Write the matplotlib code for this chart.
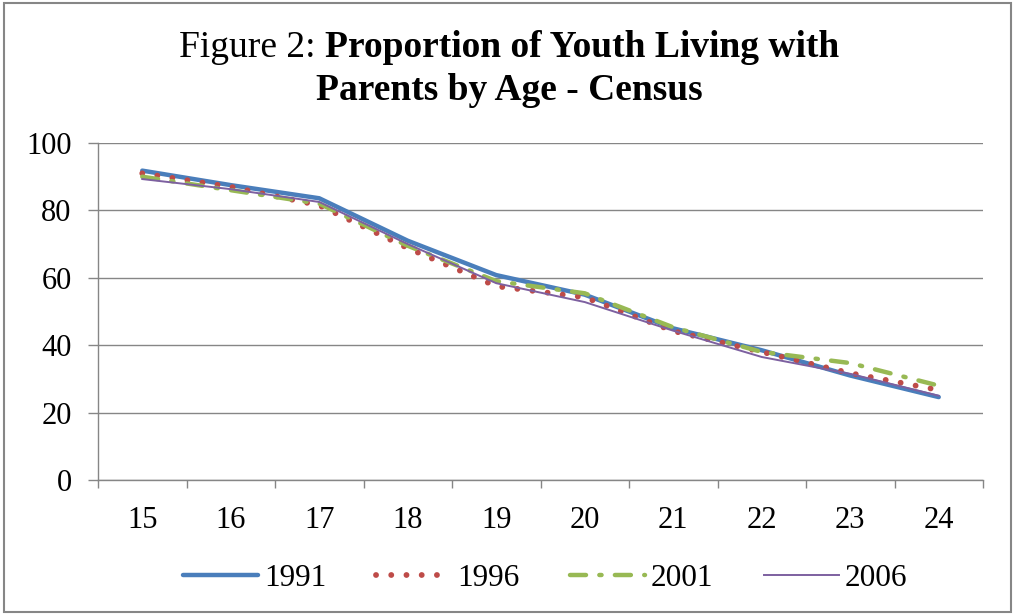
import matplotlib
matplotlib.use("Agg")
import matplotlib.pyplot as plt
from matplotlib.patches import Rectangle
from matplotlib.ticker import FixedLocator, NullFormatter

ages = ["15", "16", "17", "18", "19", "20", "21", "22", "23", "24"]
years = ["1991", "1996", "2001", "2006"]
v1991 = [91.8, 87.5, 83.6, 71.0, 60.8, 55.0, 45.0, 38.5, 31.0, 24.6]
v1996 = [91.0, 87.0, 81.5, 68.8, 57.5, 54.2, 44.2, 38.0, 31.7, 26.7]
v2001 = [90.0, 86.0, 82.0, 69.5, 59.0, 55.4, 45.3, 38.0, 34.7, 28.0]
v2006 = [89.3, 86.3, 82.5, 70.0, 58.4, 52.8, 44.3, 36.5, 31.5, 25.0]
yticks = [0, 20, 40, 60, 80, 100]

plt.rcParams['font.family'] = ['Liberation Serif', 'DejaVu Serif']

W, H = 1014, 614
fig = plt.figure(figsize=(W / 100, H / 100), dpi=100)
ax = fig.add_axes([98 / W, 1 - 480 / H, (983 - 98) / W, (480 - 143) / H])

x = list(range(len(ages)))
grid_c = '#868686'

ax.plot(x, v1991, color='#4A7EBB', lw=3.2, solid_capstyle='round', label=years[0], zorder=3)
ax.plot(x, v1996, color='#BE4B48', lw=4.2, linestyle=(0, (0.01, 2.6)),
        dash_capstyle='round', label=years[1], zorder=4)
ax.plot(x, v2001, color='#98B954', lw=3.2, linestyle=(0, (3.6, 3.0, 0.5, 3.0)),
        dash_capstyle='round', label=years[2], zorder=5)
ax.plot(x, v2006, color='#7D60A0', lw=1.4, label=years[3], zorder=6)

ax.set_xlim(-0.5, len(ages) - 0.5)
ax.set_ylim(0, 100)
ax.set_yticks(yticks)
ax.set_yticklabels([str(t) for t in yticks])
ax.xaxis.set_major_locator(FixedLocator([i - 0.5 for i in range(len(ages) + 1)]))
ax.xaxis.set_major_formatter(NullFormatter())
ax.xaxis.set_minor_locator(FixedLocator(x))
ax.set_xticklabels(ages, minor=True)
ax.tick_params(axis='x', which='minor', length=0, pad=19, labelsize=22)
ax.tick_params(axis='x', which='major', length=6, width=1, color=grid_c, direction='out')
ax.tick_params(axis='y', length=7, width=1, color=grid_c, direction='out', pad=12, labelsize=22)

for s in ['top', 'right']:
    ax.spines[s].set_visible(False)
for s in ['left', 'bottom']:
    ax.spines[s].set_color(grid_c)
    ax.spines[s].set_linewidth(1)
ax.yaxis.grid(True, color=grid_c, lw=1)
ax.set_axisbelow(True)

leg = fig.legend(loc='center', bbox_to_anchor=(545 / W, 1 - 578 / H), ncol=4, frameon=False,
                 fontsize=22.5, handlelength=2.4, handletextpad=0.2, columnspacing=1.6)

# Title with mixed weights
fs_title = 27
renderer = fig.canvas.get_renderer()
t_a = fig.text(0, 0, "Figure 2: ", fontsize=fs_title, fontweight='normal')
t_b = fig.text(0, 0, "Proportion of Youth Living with", fontsize=fs_title, fontweight='bold')
wa = t_a.get_window_extent(renderer).width
wb = t_b.get_window_extent(renderer).width
cx = 509
y1 = 1 - 57 / H
x0 = cx - (wa + wb) / 2
t_a.set_position((x0 / W, y1))
t_a.set_va('baseline')
t_b.set_position(((x0 + wa) / W, y1))
t_b.set_va('baseline')
fig.text(cx / W, 1 - 100 / H, "Parents by Age - Census", fontsize=fs_title, fontweight='bold',
         ha='center', va='baseline')

fig.patches.append(Rectangle((4 / W, 2 / H), (W - 7) / W, (H - 5) / H, transform=fig.transFigure,
                             fill=False, edgecolor=grid_c, lw=1.5))

fig.savefig("out.png", dpi=100)
